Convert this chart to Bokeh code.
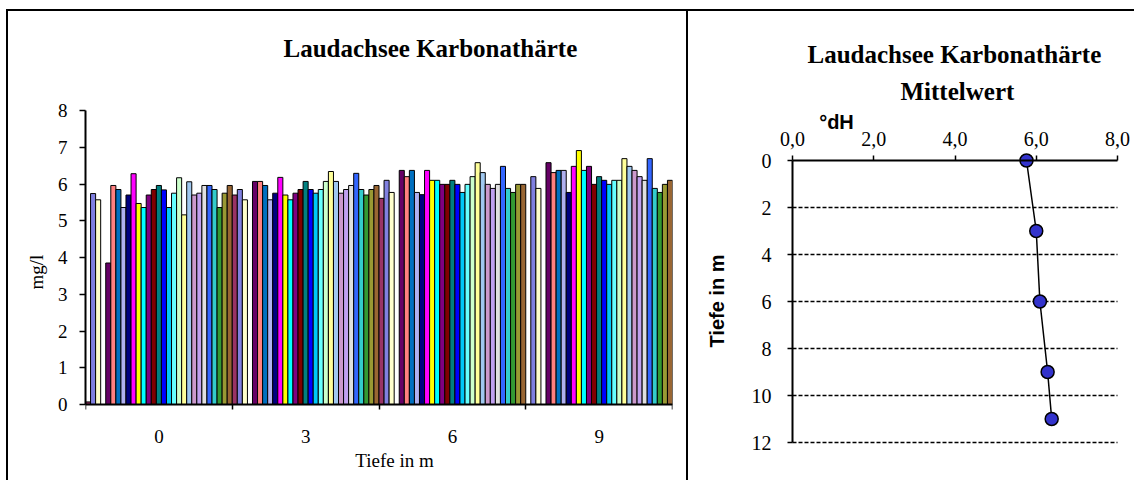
from bokeh.plotting import figure
from bokeh.layouts import row
from bokeh.models import Range1d, FixedTicker, ColumnDataSource, Title, LinearAxis
from bokeh.embed import file_html
from bokeh.resources import INLINE

# ---------------- data ----------------
depth_labels = ["0", "3", "6", "9"]

series_colors = [
    "#993366", "#8080E0", "#FFFFCC", "#CCFFFF", "#660066", "#FF8080",
    "#0070C0", "#B0B0F0", "#000080", "#FF00FF", "#FFFF00", "#00FFFF",
    "#800080", "#800000", "#008080", "#0000FF", "#00C8F8", "#66FFFF",
    "#CCFFCC", "#FFFF99", "#A0C8F0", "#CC99CC", "#C0A0F0", "#E0E0E0",
    "#3366FF", "#33CCCC", "#339933", "#999933", "#996633",
]

vals_0m = [0.07, 5.74, 5.57, None, 3.85, 5.96, 5.85, 5.36, 5.70, 6.28,
           5.47, 5.36, 5.70, 5.85, 5.96, 5.84, 5.36, 5.75, 6.17, 5.16,
           6.06, 5.70, 5.75, 5.96, 5.96, 5.85, 5.36, 5.75, 5.96]
vals_3m = [5.70, 5.85, 5.57, None, 6.07, 6.07, 5.96, 5.57, 5.75, 6.18,
           5.70, 5.57, 5.75, 5.85, 6.07, 5.85, 5.75, 5.85, 6.07, 6.34,
           6.07, 5.75, 5.85, 5.96, 6.29, 5.85, 5.70, 5.85, 5.96]
vals_6m = [5.61, 6.10, 5.77, None, 6.37, 6.20, 6.37, 5.77, 5.71, 6.37,
           6.10, 6.10, 5.99, 5.99, 6.10, 5.99, 5.77, 5.99, 6.20, 6.58,
           6.31, 5.99, 5.88, 5.99, 6.48, 5.88, 5.77, 5.99, 5.99]
vals_9m = [None, 6.20, 5.88, None, 6.58, 6.31, 6.37, 6.37, 5.77, 6.48,
           6.91, 6.37, 6.48, 5.99, 6.20, 6.10, 5.99, 6.10, 6.10, 6.69,
           6.48, 6.37, 6.20, 6.10, 6.69, 5.88, 5.77, 5.99, 6.10]

mean_dh = [5.76, 6.00, 6.09, 6.28, 6.38]
mean_depth = [0, 3, 6, 9, 11]
dh_ticks = [0, 2, 4, 6, 8]
dh_tick_labels = ["0,0", "2,0", "4,0", "6,0", "8,0"]
depth_ticks = [0, 2, 4, 6, 8, 10, 12]
mg_ticks = [0, 1, 2, 3, 4, 5, 6, 7, 8]

SERIF = "Liberation Serif"
SANS = "Liberation Sans"
TITLE = "Laudachsee  Karbonathärte"

# ---------------- layout (page pixels) ----------------
H = 480
W1 = 687
W2 = 1134 - W1
FRAME_TOP, FRAME_BOTTOM = 110, 470           # shared plot-frame band
L_LEFT, L_RIGHT, L_ZERO = 85, 672, 404        # left chart axes
R_FRAME_LEFT = 740                            # right chart frame left edge
R_LEFT, R_RIGHT, R_ZERO, R_LAST = 792, 1117, 160, 442   # right chart axes

# ---------------- left chart ----------------
groups = [vals_0m, vals_3m, vals_6m, vals_9m]
n_series = len(series_colors)
xs, tops, cols = [], [], []
for g, vals in enumerate(groups):
    for k, v in enumerate(vals):
        if v is None:
            continue
        xs.append(g + (k + 0.5) / n_series)
        tops.append(v)
        cols.append(series_colors[k])
src = ColumnDataSource(dict(x=xs, top=tops, color=cols))

ppu1 = (L_ZERO - FRAME_TOP) / mg_ticks[-1]
p1 = figure(width=W1, height=H, x_range=Range1d(0, len(groups)),
            y_range=Range1d(-(FRAME_BOTTOM - L_ZERO) / ppu1, mg_ticks[-1]),
            output_backend="svg", toolbar_location=None,
            min_border_left=L_LEFT, min_border_right=W1 - L_RIGHT,
            min_border_top=FRAME_TOP, min_border_bottom=H - FRAME_BOTTOM)
p1.border_fill_color = None
p1.background_fill_color = None
p1.outline_line_color = None
p1.grid.visible = False

p1.vbar(x="x", top="top", width=1.0 / n_series, fill_color="color",
        line_color="black", line_width=1, source=src)

p1.yaxis.ticker = FixedTicker(ticks=mg_ticks)
p1.yaxis.bounds = (mg_ticks[0], mg_ticks[-1])
p1.xaxis.fixed_location = 0
p1.xaxis.ticker = FixedTicker(ticks=[i + 0.5 for i in range(len(groups))],
                              minor_ticks=list(range(len(groups) + 1)))
p1.xaxis.major_label_overrides = {i + 0.5: lab for i, lab in enumerate(depth_labels)}
p1.xaxis.major_tick_out = 0
p1.xaxis.major_tick_in = 0
p1.xaxis.minor_tick_out = 5
p1.xaxis.minor_tick_in = 0
p1.xaxis.minor_tick_line_width = 1.5
p1.xaxis.major_label_standoff = 20
p1.yaxis.minor_tick_line_color = None
p1.yaxis.major_tick_out = 6
p1.yaxis.major_tick_in = 0
p1.yaxis.major_label_standoff = 12
for ax in (p1.xaxis[0], p1.yaxis[0]):
    ax.axis_line_width = 2
    ax.axis_line_color = "black"
    ax.major_tick_line_width = 1.5
    ax.major_tick_line_color = "black"
    ax.minor_tick_line_color = "black"
    ax.major_label_text_font = SERIF
    ax.major_label_text_font_size = "19px"
    ax.major_label_text_color = "black"

# y-axis title of the left chart, on the left side
p1.add_layout(Title(text="mg/l", text_font=SERIF, text_font_size="19px",
                    text_font_style="normal", text_color="black", align="left",
                    offset=181, standoff=16), "left")

# x-axis title of the left chart, drawn as the single label of a bare axis
xlab_pos = round((394 - L_LEFT) / (L_RIGHT - L_LEFT) * len(groups), 3)
p1.add_layout(LinearAxis(ticker=FixedTicker(ticks=[xlab_pos]),
                         major_label_overrides={xlab_pos: "Tiefe in m"},
                         fixed_location=0, axis_line_color=None,
                         major_tick_line_color=None, minor_tick_line_color=None,
                         major_tick_out=0, major_tick_in=0, major_label_standoff=45,
                         major_label_text_font=SERIF, major_label_text_font_size="19px",
                         major_label_text_color="black"), "below")

# spacer above the frame (one white tick at the far right) so that the title sits higher
spacer_x = len(groups) - 0.02
p1.add_layout(LinearAxis(ticker=FixedTicker(ticks=[spacer_x]),
                         major_label_overrides={spacer_x: ""},
                         axis_line_color=None, major_tick_line_color="white",
                         minor_tick_line_color=None, major_tick_out=44,
                         major_tick_in=0, major_label_standoff=0,
                         major_label_text_font_size="1px"), "above")

p1.title.text = TITLE
p1.title.text_font = SERIF
p1.title.text_font_size = "25px"
p1.title.text_font_style = "bold"
p1.title.text_color = "black"
p1.title.align = "left"
p1.title.offset = 198
p1.title.standoff = 10

# ---------------- right chart ----------------
ppx2 = (R_RIGHT - R_LEFT) / dh_ticks[-1]
ppy2 = (R_LAST - R_ZERO) / depth_ticks[-1]
p2 = figure(width=W2, height=H,
            x_range=Range1d(-(R_LEFT - R_FRAME_LEFT) / ppx2,
                            dh_ticks[-1] + (1134 - R_RIGHT) / ppx2),
            y_range=Range1d(depth_ticks[-1] + (FRAME_BOTTOM - R_LAST) / ppy2,
                            -(R_ZERO - FRAME_TOP) / ppy2),
            x_axis_location="above", output_backend="svg", toolbar_location=None,
            min_border_left=R_FRAME_LEFT - W1, min_border_right=0,
            min_border_top=FRAME_TOP, min_border_bottom=H - FRAME_BOTTOM)
p2.border_fill_color = None
p2.background_fill_color = None
p2.outline_line_color = None
p2.grid.visible = False

# dashed depth grid lines, limited to the 0..8 °dH span
grid_src = ColumnDataSource(dict(x0=[dh_ticks[0]] * (len(depth_ticks) - 1),
                                 x1=[dh_ticks[-1]] * (len(depth_ticks) - 1),
                                 y=depth_ticks[1:]))
p2.segment(x0="x0", y0="y", x1="x1", y1="y", source=grid_src,
           line_color="black", line_dash="4 2", line_width=1.3)

p2.xaxis.fixed_location = 0
p2.xaxis.bounds = (dh_ticks[0], dh_ticks[-1])
p2.xaxis.ticker = FixedTicker(ticks=dh_ticks)
p2.xaxis.major_label_overrides = {t: lab for t, lab in zip(dh_ticks, dh_tick_labels)}
p2.yaxis.fixed_location = 0
p2.yaxis.bounds = (depth_ticks[0], depth_ticks[-1])
p2.yaxis.ticker = FixedTicker(ticks=depth_ticks)
p2.xaxis.major_tick_out = 5
p2.xaxis.major_tick_in = 0
p2.xaxis.major_label_standoff = 10
p2.yaxis.major_tick_out = 5
p2.yaxis.major_tick_in = 0
p2.yaxis.major_label_standoff = 16
for ax in (p2.xaxis[0], p2.yaxis[0]):
    ax.axis_line_width = 2
    ax.axis_line_color = "black"
    ax.major_tick_line_width = 1.5
    ax.major_tick_line_color = "black"
    ax.minor_tick_line_color = None
    ax.major_label_text_font = SERIF
    ax.major_label_text_font_size = "20px"
    ax.major_label_text_color = "black"

# unit label "°dH" placed as a single-label axis next to the 0,0 tick
dh_label_x = round((836 - R_LEFT) / ppx2, 3)
p2.add_layout(LinearAxis(ticker=FixedTicker(ticks=[dh_label_x]),
                         major_label_overrides={dh_label_x: "°dH"},
                         axis_line_color=None, major_tick_line_color=None,
                         minor_tick_line_color=None, major_tick_out=0, major_tick_in=0,
                         major_label_standoff=28, major_label_text_font=SANS,
                         major_label_text_font_size="20px",
                         major_label_text_font_style="bold",
                         major_label_text_color="black", fixed_location=0), "above")

p2.line(mean_dh, mean_depth, line_color="black", line_width=1.5)
p2.scatter(mean_dh, mean_depth, marker="circle", size=13, fill_color="#3333CC",
           line_color="black", line_width=1.5)

# depth axis title on the left side
p2.add_layout(Title(text="Tiefe in m", text_font=SANS, text_font_size="20px",
                    text_font_style="bold", text_color="black", align="left",
                    offset=123, standoff=26), "left")

p2.title.text = TITLE
p2.title.text_font = SERIF
p2.title.text_font_size = "25px"
p2.title.text_font_style = "bold"
p2.title.text_color = "black"
p2.title.align = "left"
p2.title.offset = 67
p2.title.standoff = 4
p2.add_layout(Title(text="Mittelwert", text_font=SERIF, text_font_size="25px",
                    text_font_style="bold", text_color="black", align="left",
                    offset=160, standoff=12), "above")

frame_css = {
    "background-image": "linear-gradient(#000,#000), linear-gradient(#000,#000), linear-gradient(#000,#000)",
    "background-position": "6px 9px, 6px 9px, 686px 9px",
    "background-size": "1128px 2px, 2px 480px, 2px 480px",
    "background-repeat": "no-repeat",
}
layout = row(p1, p2, styles=frame_css)
open("out.html", "w").write(file_html(layout, INLINE))
